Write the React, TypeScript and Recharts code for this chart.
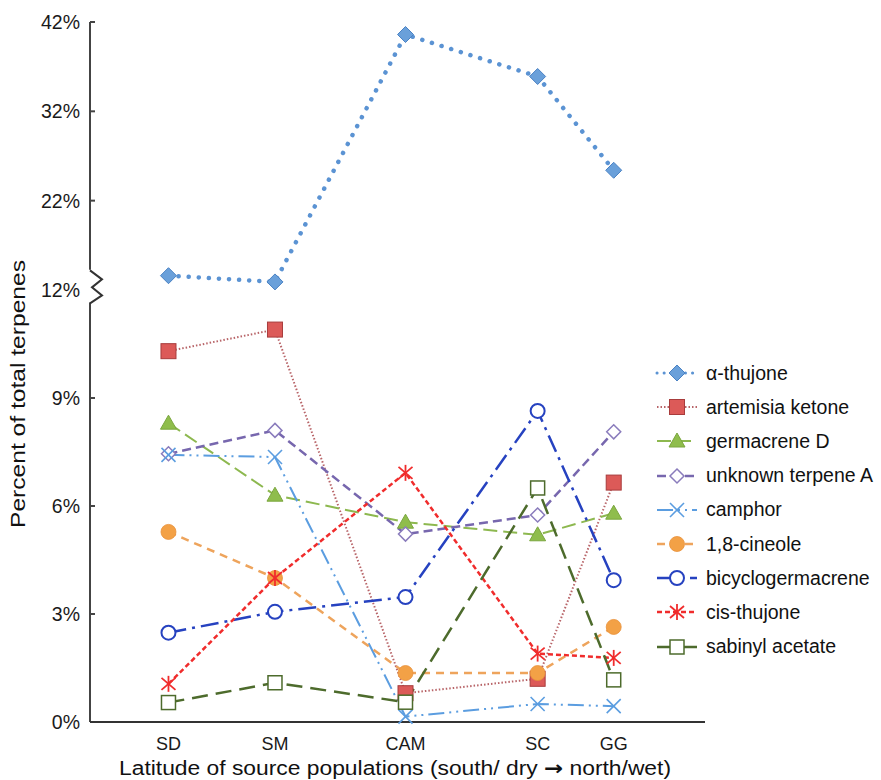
import { Label, Line, LineChart, ReferenceDot, ReferenceLine, XAxis, YAxis } from "recharts";

const sites = ["SD", "SM", "CAM", "SC", "GG"];
// approximate latitude of each source population (deg N)
const latitude = [32.7, 34.03, 35.66, 37.31, 38.26];

const alphaThujone = [13.6, 12.9, 40.6, 35.9, 25.4];
const artemisiaKetone = [10.3, 10.9, 0.8, 1.2, 6.65];
const germacreneD = [8.3, 6.3, 5.55, 5.2, 5.8];
const unknownTerpeneA = [7.45, 8.1, 5.22, 5.75, 8.06];
const camphor = [7.42, 7.36, 0.15, 0.5, 0.44];
const cineole = [5.28, 4.0, 1.36, 1.36, 2.64];
const bicyclogermacrene = [2.48, 3.06, 3.47, 8.64, 3.94];
const cisThujone = [1.06, 4.0, 6.92, 1.9, 1.78];
const sabinylAcetate = [0.54, 1.09, 0.55, 6.5, 1.17];

const yTickLabels = [0, 3, 6, 9, 12, 22, 32, 42];

// broken axis: above 12% the scale is compressed
const BREAK = 12;
const UPPER_RATIO = 0.2481;
const brk = (v: number) => (v <= BREAK ? v : BREAK + (v - BREAK) * UPPER_RATIO);
const yTicks = yTickLabels.map(brk);
const X_MIN = 31.72;
const X_MAX = 39.4;

const FONT = "'Liberation Sans', Arial, sans-serif";

type Series = {
  key: string;
  name: string;
  values: number[];
  color: string;
  width: number;
  dash: string;
  marker: string;
  fill: string;
  round?: boolean;
};

const series: Series[] = [
  { key: "alpha", name: "α-thujone", values: alphaThujone, color: "#5b93d3", width: 4.5, dash: "0.1 10", marker: "diamond", fill: "#6aa0da", round: true },
  { key: "artemisia", name: "artemisia ketone", values: artemisiaKetone, color: "#b86468", width: 2, dash: "1.5 2", marker: "square", fill: "#dc5a58" },
  { key: "germacrene", name: "germacrene D", values: germacreneD, color: "#8db84f", width: 2, dash: "14 6", marker: "triangle", fill: "#8fbd4c" },
  { key: "unknownA", name: "unknown terpene A", values: unknownTerpeneA, color: "#7767ae", width: 2.5, dash: "9 5", marker: "diamondOpen", fill: "#8a7cbc" },
  { key: "camphor", name: "camphor", values: camphor, color: "#5b9de0", width: 2, dash: "16 5 2 5 2 5", marker: "x", fill: "#5b9de0" },
  { key: "cineole", name: "1,8-cineole", values: cineole, color: "#eea45c", width: 2.5, dash: "8 6", marker: "circle", fill: "#f3a146" },
  { key: "bicyclo", name: "bicyclogermacrene", values: bicyclogermacrene, color: "#2642c0", width: 2.5, dash: "18 6 3 6", marker: "circleOpen", fill: "#2642c0" },
  { key: "cis", name: "cis-thujone", values: cisThujone, color: "#f02c2c", width: 2.5, dash: "5 3", marker: "star", fill: "#f02c2c" },
  { key: "sabinyl", name: "sabinyl acetate", values: sabinylAcetate, color: "#4d6b2c", width: 2.5, dash: "16 8", marker: "squareOpen", fill: "#4d6b2c" },
];

const rows = sites.map((site, i) => {
  const row: Record<string, number | string> = { site, lat: latitude[i] };
  series.forEach((s) => (row[s.key] = s.values[i]));
  return row;
});

function Marker({ cx, cy, s }: { cx: number; cy: number; s: Series }) {
  if (cx == null || cy == null) return null;
  switch (s.marker) {
    case "diamond":
      return <polygon points={`${cx},${cy - 8} ${cx + 8},${cy} ${cx},${cy + 8} ${cx - 8},${cy}`} fill={s.fill} stroke="#4a82c4" strokeWidth={1} />;
    case "square":
      return <rect x={cx - 7.5} y={cy - 7.5} width={15} height={15} fill={s.fill} stroke="#a83c3c" strokeWidth={1} />;
    case "triangle":
      return <polygon points={`${cx},${cy - 8} ${cx + 8},${cy + 6} ${cx - 8},${cy + 6}`} fill={s.fill} stroke="#7aa63e" strokeWidth={1} />;
    case "diamondOpen":
      return <polygon points={`${cx},${cy - 7} ${cx + 7},${cy} ${cx},${cy + 7} ${cx - 7},${cy}`} fill="#fff" stroke={s.fill} strokeWidth={1.5} />;
    case "x":
      return (
        <g stroke={s.fill} strokeWidth={1.6}>
          <line x1={cx - 7} y1={cy - 7} x2={cx + 7} y2={cy + 7} />
          <line x1={cx - 7} y1={cy + 7} x2={cx + 7} y2={cy - 7} />
        </g>
      );
    case "circle":
      return <circle cx={cx} cy={cy} r={7.5} fill={s.fill} stroke="#e8913a" strokeWidth={0.8} />;
    case "circleOpen":
      return <circle cx={cx} cy={cy} r={7} fill="#fff" stroke={s.fill} strokeWidth={2} />;
    case "star":
      return (
        <g stroke={s.fill} strokeWidth={1.8}>
          <line x1={cx - 7} y1={cy - 6} x2={cx + 7} y2={cy + 6} />
          <line x1={cx - 7} y1={cy + 6} x2={cx + 7} y2={cy - 6} />
          <line x1={cx} y1={cy - 8} x2={cx} y2={cy + 8} />
        </g>
      );
    case "squareOpen":
      return <rect x={cx - 7} y={cy - 7} width={14} height={14} fill="#fff" stroke={s.fill} strokeWidth={1.5} />;
  }
  return null;
}

const YTick = ({ x, y, index }: any) => {
  const label = yTickLabels[index];
  const axisX = x + 10;
  return (
    <g>
      <text x={x} y={y} dy="0.36em" textAnchor="end" fontSize={19.5} fill="#1a1a1a" fontFamily={FONT}>
        {label}%
      </text>
      {label !== 0 && label !== BREAK && <line x1={axisX} x2={axisX + 5} y1={y} y2={y} stroke="#444" strokeWidth={2} />}
    </g>
  );
};

const ZigZag = ({ cx, cy }: any) => (
  <path
    d={`M${cx},${cy - 16} L${cx + 12},${cy - 7} L${cx + 2},${cy + 1} L${cx + 12},${cy + 9} L${cx},${cy + 17}`}
    fill="none"
    stroke="#333"
    strokeWidth={2}
  />
);

const LegendBox = () => (
  <div style={{ position: "absolute", left: 655, top: 356, width: 226, fontFamily: FONT, fontSize: 19.5, color: "#111" }}>
    {series.map((s) => (
      <div key={s.key} style={{ display: "flex", alignItems: "center", height: 34.2 }}>
        <svg width={44} height={20} style={{ marginRight: 7 }}>
          <line x1={2} x2={42} y1={10} y2={10} stroke={s.color} strokeWidth={Math.min(s.width, 3)} strokeDasharray={s.round ? "0.1 7" : s.dash} strokeLinecap={s.round ? "round" : "butt"} />
          <Marker cx={22} cy={10} s={s} />
        </svg>
        <span style={{ whiteSpace: "nowrap" }}>{s.name}</span>
      </div>
    ))}
  </div>
);

export default function App() {
  return (
    <div style={{ position: "absolute", left: 0, top: 0, width: 881, height: 780, background: "#fff" }}>
      <LineChart width={881} height={780} data={rows} margin={{ top: 22, right: 176, bottom: 0, left: 0 }}>
        <XAxis
          type="number"
          dataKey="lat"
          domain={[X_MIN, X_MAX]}
          ticks={latitude}
          tickFormatter={(v: number) => sites[latitude.indexOf(v)]}
          tickLine={false}
          tickMargin={9}
          height={58}
          axisLine={{ stroke: "#333", strokeWidth: 2 }}
          tick={{ fontSize: 18, fill: "#1a1a1a", fontFamily: FONT }}
        >
          <Label
            content={({ viewBox }: any) => (
              <text x={395} y={viewBox.y + 53} textAnchor="middle" fontSize={20} fill="#111" fontFamily={FONT} textLength={552} lengthAdjust="spacingAndGlyphs">
                Latitude of source populations (south/ dry <tspan fontFamily="'DejaVu Sans', sans-serif" fontWeight="bold">→</tspan> north/wet)
              </text>
            )}
          />
        </XAxis>
        <YAxis
          type="number"
          domain={[0, brk(42)]}
          ticks={yTicks}
          width={90}
          tickSize={0}
          tickMargin={10}
          tickLine={false}
          axisLine={false}
          tick={YTick}
        >
          <Label
            content={({ viewBox }: any) => {
              const x = viewBox.x + 25;
              const y = viewBox.y + viewBox.height / 2 + 22;
              return (
                <text x={x} y={y} transform={`rotate(-90 ${x} ${y})`} textAnchor="middle" fontSize={20} fill="#111" fontFamily={FONT} textLength={268} lengthAdjust="spacingAndGlyphs">
                  Percent of total terpenes
                </text>
              );
            }}
          />
        </YAxis>
        <ReferenceLine segment={[{ x: X_MIN, y: 0 }, { x: X_MIN, y: 11.65 }]} stroke="#444" strokeWidth={2} />
        <ReferenceLine segment={[{ x: X_MIN, y: 12.56 }, { x: X_MIN, y: brk(42) }]} stroke="#444" strokeWidth={2} />
        <ReferenceDot x={X_MIN} y={12.1} shape={ZigZag} />
        {series.map((s) => (
          <Line
            key={s.key}
            type="linear"
            name={s.name}
            dataKey={(d: any) => brk(d[s.key])}
            stroke={s.color}
            strokeWidth={s.width}
            strokeDasharray={s.dash}
            strokeLinecap={s.round ? "round" : "butt"}
            dot={(p: any) => <Marker key={`${s.key}-${p.index}`} cx={p.cx} cy={p.cy} s={s} />}
            activeDot={false}
            isAnimationActive={false}
          />
        ))}
      </LineChart>
      <LegendBox />
    </div>
  );
}
